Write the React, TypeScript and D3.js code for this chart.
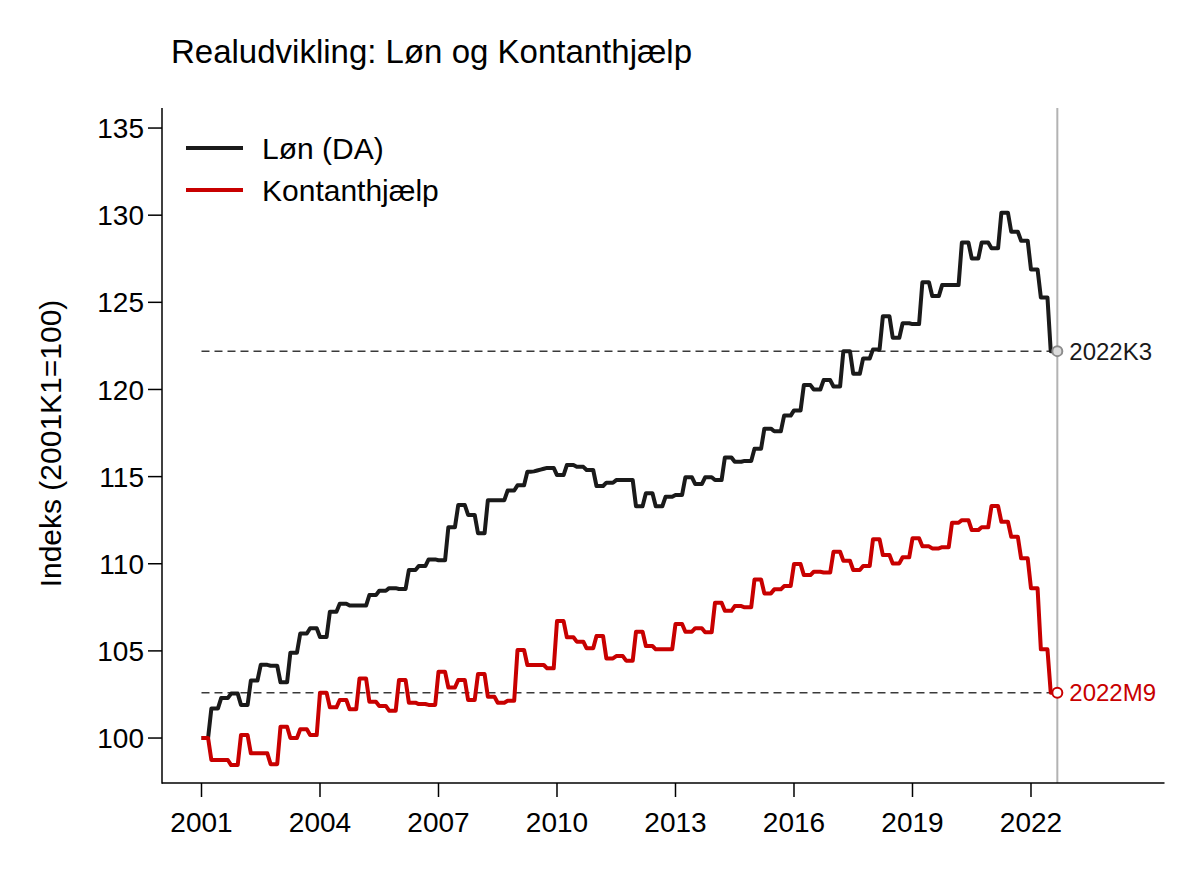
import React from 'react';
import * as d3 from 'd3';

// Monthly index values, 2001M1 = first entry, last entry = 2022M9
const lonDA = [
  100.0, 100.0, 100.0, 101.7, 101.7, 101.7, 102.3, 102.3, 102.3, 102.55, 102.55, 102.55,
  101.9, 101.9, 101.9, 103.3, 103.3, 103.3, 104.2, 104.2, 104.2, 104.15, 104.15, 104.15,
  103.2, 103.2, 103.2, 104.9, 104.9, 104.9, 106.0, 106.0, 106.0, 106.3, 106.3, 106.3,
  105.8, 105.8, 105.8, 107.25, 107.25, 107.25, 107.7, 107.7, 107.7, 107.6, 107.6, 107.6,
  107.6, 107.6, 107.6, 108.2, 108.2, 108.2, 108.45, 108.45, 108.45, 108.6, 108.6, 108.6,
  108.55, 108.55, 108.55, 109.64, 109.64, 109.64, 109.87, 109.87, 109.87, 110.25, 110.25, 110.25,
  110.2, 110.2, 110.2, 112.1, 112.1, 112.1, 113.37, 113.37, 113.37, 112.8, 112.8, 112.8,
  111.75, 111.75, 111.75, 113.65, 113.65, 113.65, 113.65, 113.65, 113.65, 114.2, 114.2, 114.2,
  114.5, 114.5, 114.5, 115.28, 115.28, 115.3, 115.35, 115.4, 115.45, 115.5, 115.5, 115.5,
  115.09, 115.09, 115.09, 115.66, 115.66, 115.66, 115.56, 115.56, 115.56, 115.38, 115.38, 115.38,
  114.46, 114.46, 114.46, 114.65, 114.65, 114.65, 114.8, 114.8, 114.8, 114.8, 114.8, 114.8,
  113.3, 113.3, 113.3, 114.04, 114.04, 114.04, 113.3, 113.3, 113.3, 113.85, 113.85, 113.85,
  113.95, 113.95, 113.95, 114.96, 114.96, 114.96, 114.57, 114.57, 114.57, 114.96, 114.96, 114.96,
  114.8, 114.8, 114.8, 116.1, 116.1, 116.1, 115.85, 115.85, 115.85, 115.9, 115.9, 115.9,
  116.6, 116.6, 116.6, 117.75, 117.75, 117.75, 117.6, 117.6, 117.6, 118.5, 118.5, 118.5,
  118.8, 118.8, 118.8, 120.25, 120.25, 120.25, 120.0, 120.0, 120.0, 120.54, 120.54, 120.54,
  120.17, 120.17, 120.17, 122.2, 122.2, 122.2, 120.9, 120.9, 120.9, 121.78, 121.78, 121.78,
  122.3, 122.3, 122.3, 124.2, 124.2, 124.2, 122.97, 122.97, 122.97, 123.8, 123.8, 123.8,
  123.75, 123.75, 123.75, 126.15, 126.15, 126.15, 125.36, 125.36, 125.36, 125.99, 125.99, 125.99,
  125.99, 125.99, 125.99, 128.43, 128.43, 128.43, 127.52, 127.52, 127.52, 128.43, 128.43, 128.43,
  128.1, 128.1, 128.1, 130.14, 130.14, 130.14, 129.05, 129.05, 129.05, 128.53, 128.53, 128.53,
  126.88, 126.88, 126.88, 125.28, 125.28, 125.28, 122.2, 122.2, 122.2,
];

const kontanthjaelp = [
  100.0, 100.0, 100.0, 98.74, 98.74, 98.74, 98.74, 98.74, 98.74, 98.45, 98.45, 98.45,
  100.17, 100.17, 100.17, 99.12, 99.12, 99.12, 99.12, 99.12, 99.12, 98.5, 98.5, 98.5,
  100.65, 100.65, 100.65, 100.0, 100.0, 100.0, 100.5, 100.5, 100.5, 100.17, 100.17, 100.17,
  102.6, 102.6, 102.6, 101.76, 101.76, 101.76, 102.18, 102.18, 102.18, 101.65, 101.65, 101.65,
  103.42, 103.42, 103.42, 102.08, 102.08, 102.08, 101.84, 101.84, 101.84, 101.57, 101.57, 101.57,
  103.33, 103.33, 103.33, 102.03, 102.03, 102.03, 101.95, 101.95, 101.95, 101.9, 101.9, 101.9,
  103.8, 103.8, 103.8, 102.9, 102.9, 102.9, 103.33, 103.33, 103.33, 102.18, 102.18, 102.18,
  103.67, 103.67, 103.67, 102.37, 102.37, 102.37, 102.03, 102.03, 102.03, 102.14, 102.14, 102.14,
  105.05, 105.05, 105.05, 104.19, 104.19, 104.19, 104.19, 104.19, 104.19, 104.0, 104.0, 104.0,
  106.71, 106.71, 106.71, 105.78, 105.78, 105.78, 105.53, 105.53, 105.53, 105.15, 105.15, 105.15,
  105.85, 105.85, 105.85, 104.57, 104.57, 104.57, 104.7, 104.7, 104.7, 104.44, 104.44, 104.44,
  106.1, 106.1, 106.1, 105.28, 105.28, 105.28, 105.09, 105.09, 105.09, 105.09, 105.09, 105.09,
  106.54, 106.54, 106.54, 106.1, 106.1, 106.1, 106.3, 106.3, 106.3, 106.07, 106.07, 106.07,
  107.76, 107.76, 107.76, 107.3, 107.3, 107.3, 107.57, 107.57, 107.57, 107.5, 107.5, 107.5,
  109.1, 109.1, 109.1, 108.3, 108.3, 108.3, 108.53, 108.53, 108.53, 108.72, 108.72, 108.72,
  109.98, 109.98, 109.98, 109.35, 109.35, 109.35, 109.54, 109.54, 109.54, 109.5, 109.5, 109.5,
  110.69, 110.69, 110.69, 110.17, 110.17, 110.17, 109.64, 109.64, 109.64, 109.87, 109.87, 109.87,
  111.4, 111.4, 111.4, 110.5, 110.5, 110.5, 110.02, 110.02, 110.02, 110.37, 110.37, 110.37,
  111.46, 111.46, 111.46, 111.0, 111.0, 111.0, 110.88, 110.88, 110.88, 110.95, 110.95, 110.95,
  112.35, 112.35, 112.35, 112.5, 112.5, 112.5, 111.93, 111.93, 111.93, 112.09, 112.09, 112.09,
  113.31, 113.31, 113.31, 112.41, 112.41, 112.41, 111.55, 111.55, 111.55, 110.31, 110.31, 110.31,
  108.59, 108.59, 108.59, 105.09, 105.09, 105.09, 102.6, 102.6, 102.6,
];

const startYear = 2001;
const xTicks = [2001, 2004, 2007, 2010, 2013, 2016, 2019, 2022];
const yTicks = [100, 105, 110, 115, 120, 125, 130, 135];
const seriesNames = ['Løn (DA)', 'Kontanthjælp'];
const endLabels = ['2022K3', '2022M9'];

const font = '"Liberation Sans", Arial, Helvetica, sans-serif';
const colors = ['#1a1a1a', '#c80000'];

const App = () => {
  const width = 1200;
  const height = 873;
  const plot = { left: 162, right: 1164.5, top: 108, bottom: 783 };

  const x = d3.scaleLinear().domain([2000, 2025.38]).range([plot.left, plot.right]);
  const y = d3.scaleLinear().domain([97.42, 136.15]).range([plot.bottom, plot.top]);

  const toPoints = (values: number[]) =>
    values.map((v, i) => ({ t: startYear + i / 12, v }));
  const series = [toPoints(lonDA), toPoints(kontanthjaelp)];

  const line = d3.line<{ t: number; v: number }>()
    .x(d => x(d.t))
    .y(d => y(d.v));

  const lastT = series[0][series[0].length - 1].t;
  const lastVals = series.map(s => s[s.length - 1].v);

  return (
    <svg width={width} height={height}
      style={{ position: 'absolute', left: 0, top: 0, background: '#fff', fontFamily: font }}>
      {/* title */}
      <text x={171} y={63} fontSize={33} fill="#000">Realudvikling: Løn og Kontanthjælp</text>

      {/* reference lines at the latest values */}
      {lastVals.map((v, i) => (
        <line key={'ref' + i} x1={x(startYear)} x2={x(lastT)} y1={y(v)} y2={y(v)}
          stroke="#3a3a3a" strokeWidth={1.5} strokeDasharray="8,5" />
      ))}
      <line x1={x(lastT)} x2={x(lastT)} y1={plot.top} y2={plot.bottom}
        stroke="#b3b3b3" strokeWidth={2} />

      {/* series */}
      {series.map((s, i) => (
        <path key={'s' + i} d={line(s) || ''} fill="none" stroke={colors[i]}
          strokeWidth={4} strokeLinejoin="round" />
      ))}

      {/* end markers */}
      <circle cx={x(lastT)} cy={y(lastVals[0])} r={5} fill="#dcdcdc" stroke="#8c8c8c" strokeWidth={2} />
      <circle cx={x(lastT)} cy={y(lastVals[1])} r={5} fill="#fff" stroke={colors[1]} strokeWidth={2} />
      {endLabels.map((lab, i) => (
        <text key={'el' + i} x={x(lastT) + 12} y={y(lastVals[i])} dy="0.36em" fontSize={24}
          fill={colors[i]}>{lab}</text>
      ))}

      {/* axes */}
      <line x1={plot.left} x2={plot.left} y1={plot.top} y2={plot.bottom + 0.75} stroke="#000" strokeWidth={1.5} />
      <line x1={plot.left} x2={plot.right} y1={plot.bottom} y2={plot.bottom} stroke="#000" strokeWidth={1.5} />
      {yTicks.map(t => (
        <g key={'y' + t}>
          <line x1={plot.left - 14} x2={plot.left} y1={y(t)} y2={y(t)} stroke="#000" strokeWidth={1.5} />
          <text x={plot.left - 18} y={y(t)} dy="0.36em" textAnchor="end" fontSize={28}>{t}</text>
        </g>
      ))}
      {xTicks.map(t => (
        <g key={'x' + t}>
          <line x1={x(t)} x2={x(t)} y1={plot.bottom} y2={plot.bottom + 14} stroke="#000" strokeWidth={1.5} />
          <text x={x(t)} y={832} textAnchor="middle" fontSize={28}>{t}</text>
        </g>
      ))}
      <text transform={`translate(61,${(plot.top + plot.bottom) / 2 - 2}) rotate(-90)`}
        textAnchor="middle" fontSize={30}>Indeks (2001K1=100)</text>

      {/* legend */}
      {seriesNames.map((name, i) => (
        <g key={'lg' + i} transform={`translate(186,${148 + i * 42})`}>
          <line x1={0} x2={57} y1={0} y2={0} stroke={colors[i]} strokeWidth={4} />
          <text x={76} y={0} dy="0.36em" fontSize={30}>{name}</text>
        </g>
      ))}
    </svg>
  );
};

export default App;
